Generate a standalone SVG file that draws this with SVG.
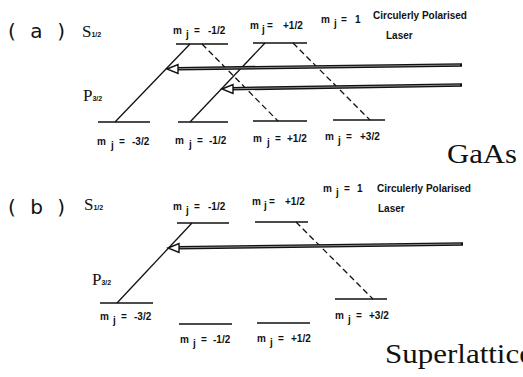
<svg xmlns="http://www.w3.org/2000/svg" width="523" height="377" viewBox="0 0 523 377">
<style>
.lv{stroke:#111;stroke-width:1.6;fill:none}
.sol{stroke:#111;stroke-width:1.3;fill:none}
.dash{stroke:#111;stroke-width:1.3;fill:none;stroke-dasharray:6 3.5}
.shaft{stroke:#111;stroke-width:3.6;fill:none}
.core{stroke:#999;stroke-width:0.9;fill:none}
.head{fill:#fff;stroke:#111;stroke-width:1.4}
.m{font-family:"Liberation Sans",Arial,sans-serif;font-weight:bold;font-size:10px;fill:#111}
.big{font-family:"Liberation Serif","Times New Roman",serif;font-size:17px;fill:#111}
.sub{font-family:"Liberation Sans",Arial,sans-serif;font-weight:bold;font-size:7px;fill:#111}
.tag{font-family:"DejaVu Sans",sans-serif;font-size:20px;fill:#111}
.mat{font-family:"Liberation Serif","Times New Roman",serif;font-size:28px;fill:#111}
</style>
<rect width="523" height="377" fill="#fff"/>

<g id="panel-a-labels">
<text class="tag" x="8" y="38" textLength="57" lengthAdjust="spacing">( a )</text>
<text class="big" x="82" y="37">S<tspan class="sub">1/2</tspan></text>
<text class="big" x="83" y="101">P<tspan class="sub">3/2</tspan></text>
<text class="m" x="373" y="19">Circulerly  Polarised</text>
<text class="m" x="386" y="39">Laser</text>
<text class="m" x="321" y="23">m<tspan x="334" dy="4">j</tspan><tspan x="341" dy="-4">=</tspan><tspan x="355">1</tspan></text>
<text class="mat" x="447" y="163" textLength="70" lengthAdjust="spacingAndGlyphs">GaAs</text>
</g>

<g id="a-S-m-1">
<line class="lv" x1="176" y1="44" x2="228" y2="44"/>
<text class="m" x="173" y="34">m<tspan x="186" dy="4">j</tspan><tspan x="194" dy="-4">=</tspan><tspan x="208">-1/2</tspan></text>
</g>
<g id="a-S-m+1">
<line class="lv" x1="253" y1="43" x2="307" y2="43"/>
<text class="m" x="250" y="29">m<tspan x="262" dy="4">j</tspan><tspan x="267" dy="-4">=</tspan><tspan x="283">+1/2</tspan></text>
</g>
<g id="a-P-m-3">
<line class="lv" x1="98" y1="122" x2="150" y2="122"/>
<text class="m" x="97" y="145">m<tspan x="111" dy="4">j</tspan><tspan x="119" dy="-4">=</tspan><tspan x="132">-3/2</tspan></text>
</g>
<g id="a-P-m-1">
<line class="lv" x1="178" y1="122" x2="228" y2="122"/>
<text class="m" x="175" y="144">m<tspan x="189" dy="4">j</tspan><tspan x="197" dy="-4">=</tspan><tspan x="209">-1/2</tspan></text>
</g>
<g id="a-P-m+1">
<line class="lv" x1="253" y1="121" x2="307" y2="121"/>
<text class="m" x="253" y="142">m<tspan x="267" dy="4">j</tspan><tspan x="275" dy="-4">=</tspan><tspan x="287">+1/2</tspan></text>
</g>
<g id="a-P-m+3">
<line class="lv" x1="333" y1="120" x2="385" y2="120"/>
<text class="m" x="325" y="140">m<tspan x="338" dy="4">j</tspan><tspan x="346" dy="-4">=</tspan><tspan x="360">+3/2</tspan></text>
</g>

<g id="panel-b-labels">
<text class="tag" x="8" y="214" textLength="57" lengthAdjust="spacing">( b )</text>
<text class="big" x="84" y="210">S<tspan class="sub">1/2</tspan></text>
<text class="big" x="92" y="285">P<tspan class="sub">3/2</tspan></text>
<text class="m" x="323" y="192">m<tspan x="336" dy="4">j</tspan><tspan x="344" dy="-4">=</tspan><tspan x="357">1</tspan></text>
<text class="m" x="377" y="192">Circulerly  Polarised</text>
<text class="m" x="378" y="212">Laser</text>
<text class="mat" x="385" y="363" textLength="148" lengthAdjust="spacingAndGlyphs">Superlattice</text>
</g>

<g id="b-S-m-1">
<line class="lv" x1="177" y1="223" x2="229" y2="223"/>
<text class="m" x="173" y="210">m<tspan x="186" dy="4">j</tspan><tspan x="194" dy="-4">=</tspan><tspan x="208">-1/2</tspan></text>
</g>
<g id="b-S-m+1">
<line class="lv" x1="255" y1="222" x2="308" y2="222"/>
<text class="m" x="252" y="205">m<tspan x="264" dy="4">j</tspan><tspan x="269" dy="-4">=</tspan><tspan x="285">+1/2</tspan></text>
</g>
<g id="b-P-m-3">
<line class="lv" x1="100" y1="303" x2="153" y2="303"/>
<text class="m" x="100" y="320">m<tspan x="113" dy="4">j</tspan><tspan x="121" dy="-4">=</tspan><tspan x="134">-3/2</tspan></text>
</g>
<g id="b-P-m-1">
<line class="lv" x1="179" y1="324" x2="232" y2="324"/>
<text class="m" x="180" y="343">m<tspan x="193" dy="4">j</tspan><tspan x="201" dy="-4">=</tspan><tspan x="213">-1/2</tspan></text>
</g>
<g id="b-P-m+1">
<line class="lv" x1="257" y1="323" x2="310" y2="323"/>
<text class="m" x="257" y="342">m<tspan x="270" dy="4">j</tspan><tspan x="278" dy="-4">=</tspan><tspan x="291">+1/2</tspan></text>
</g>
<g id="b-P-m+3">
<line class="lv" x1="335" y1="299" x2="387" y2="299"/>
<text class="m" x="335" y="319">m<tspan x="348" dy="4">j</tspan><tspan x="356" dy="-4">=</tspan><tspan x="369">+3/2</tspan></text>
</g>

<g id="connectors">
<line class="sol" x1="190" y1="44" x2="115" y2="122"/>
<line class="sol" x1="265" y1="43" x2="190" y2="122"/>
<line class="dash" x1="202" y1="44" x2="278" y2="121"/>
<line class="dash" x1="293" y1="43" x2="370" y2="120"/>
<line class="sol" x1="192" y1="223" x2="117" y2="303"/>
<line class="dash" x1="296" y1="222" x2="373" y2="299"/>

<line class="shaft" x1="176" y1="68.7" x2="462" y2="65"/>
<line class="core" x1="178" y1="68.7" x2="460" y2="65"/>
<polygon class="head" points="167,69 178,64.5 178,73.5"/>

<line class="shaft" x1="231" y1="88.7" x2="462" y2="85"/>
<line class="core" x1="233" y1="88.7" x2="460" y2="85"/>
<polygon class="head" points="222,89 233,84.5 233,93.5"/>

<line class="shaft" x1="177" y1="247.7" x2="463" y2="244"/>
<line class="core" x1="179" y1="247.7" x2="461" y2="244"/>
<polygon class="head" points="168,248 179,243.5 179,252.5"/>
</g>
</svg>
